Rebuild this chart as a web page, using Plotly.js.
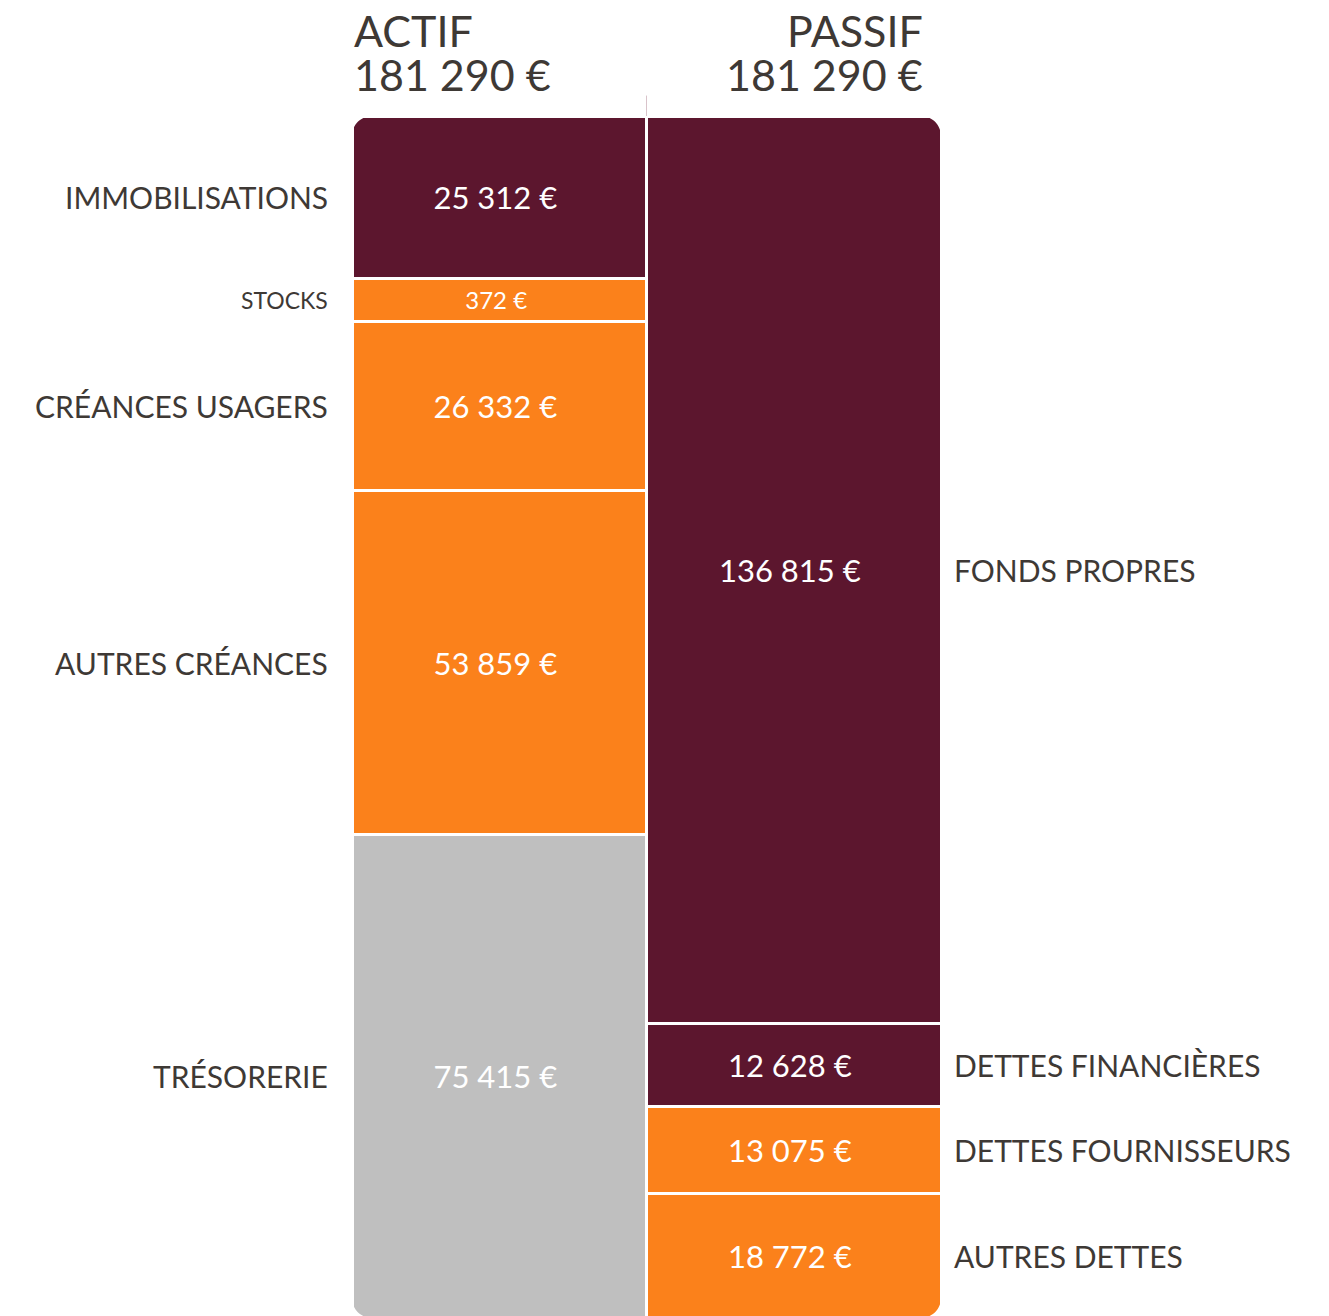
<!DOCTYPE html>
<html>
<head>
<meta charset="utf-8">
<script src="https://cdn.plot.ly/plotly-3.0.1.min.js"></script>
<style>
html,body{margin:0;padding:0;background:#fff;overflow:hidden;}
#chart{width:1329px;height:1318px;}
</style>
</head>
<body>
<div id="chart"></div>
<script>
// ---- Data ----
const actifLabels = ["IMMOBILISATIONS", "STOCKS", "CRÉANCES USAGERS", "AUTRES CRÉANCES", "TRÉSORERIE"];
const actifValues = [25312, 372, 26332, 53859, 75415];
const actifColors = ["#5C162E", "#FB811B", "#FB811B", "#FB811B", "#BFBFBF"];

const passifLabels = ["FONDS PROPRES", "DETTES FINANCIÈRES", "DETTES FOURNISSEURS", "AUTRES DETTES"];
const passifValues = [136815, 12628, 13075, 18772];
const passifColors = ["#5C162E", "#5C162E", "#FB811B", "#FB811B"];

const columns = ["ACTIF", "PASSIF"];

// ---- Helpers ----
const FONT = "Lato, 'Noto Sans', sans-serif";
const TXT = "#3E3935";
const MIN_SHARE = 0.036; // tiny items get a minimum visual height
const fmt = v => v.toString().replace(/\B(?=(\d{3})+(?!\d))/g, "\u00a0") + "\u00a0€";
const sum = a => a.reduce((s, v) => s + v, 0);

function displayHeights(values) {
  const total = sum(values);
  const minV = MIN_SHARE * total;
  const small = values.map(v => v < minV);
  const fixed = values.reduce((s, v, i) => s + (small[i] ? minV : 0), 0);
  const rest = values.reduce((s, v, i) => s + (small[i] ? 0 : v), 0);
  const k = (total - fixed) / rest;
  return values.map((v, i) => small[i] ? minV : v * k);
}

const actifDisp = displayHeights(actifValues);
const passifDisp = displayHeights(passifValues);
const totalActif = sum(actifValues);
const totalPassif = sum(passifValues);

const traces = [];
const annotations = [];

function addColumn(col, labels, values, disp, colors, side) {
  let cum = 0;
  labels.forEach((lab, i) => {
    const small = values[i] < MIN_SHARE * sum(values);
    traces.push({
      type: "bar",
      x: [col],
      y: [disp[i]],
      name: lab,
      marker: { color: colors[i], line: { color: "#ffffff", width: 3 } },
      text: [fmt(values[i]) + "\u00a0"],
      textposition: "inside",
      insidetextanchor: "middle",
      textangle: 0,
      constraintext: "none",
      textfont: { family: FONT, size: small ? 24 : 31, color: "#ffffff" },
      hoverinfo: "name+text",
      showlegend: false
    });
    const mid = cum + disp[i] / 2;
    cum += disp[i];
    annotations.push({
      xref: "paper", yref: "y",
      x: side === "left" ? 0 : 1,
      y: mid,
      xanchor: side === "left" ? "right" : "left",
      yanchor: "middle",
      xshift: side === "left" ? -22 : 11,
      text: lab,
      showarrow: false,
      font: { family: FONT, size: small ? 23 : 30, color: TXT }
    });
  });
}

addColumn(columns[0], actifLabels, actifValues, actifDisp, actifColors, "left");
addColumn(columns[1], passifLabels, passifValues, passifDisp, passifColors, "right");

// headers
const headFont = { family: FONT, size: 43, color: TXT };
annotations.push(
  { xref: "paper", yref: "paper", x: 0, y: 1, xanchor: "left", yanchor: "bottom", xshift: 0, yshift: 58, text: columns[0], showarrow: false, font: headFont },
  { xref: "paper", yref: "paper", x: 0, y: 1, xanchor: "left", yanchor: "bottom", xshift: 0, yshift: 14, text: fmt(totalActif), showarrow: false, font: headFont },
  { xref: "paper", yref: "paper", x: 1, y: 1, xanchor: "right", yanchor: "bottom", xshift: -16, yshift: 58, text: columns[1], showarrow: false, font: headFont },
  { xref: "paper", yref: "paper", x: 1, y: 1, xanchor: "right", yanchor: "bottom", xshift: -16, yshift: 14, text: fmt(totalPassif), showarrow: false, font: headFont }
);

// rounded outer corners (white masks) + divider tick above the bars
const R = 20, K = 0.4477 * R;
const yTop = 0, yBot = Math.max(totalActif, totalPassif);
function corner(xa, ya, sx, sy) {
  // local frame: +x and -y point into the bar; sx/sy orient it (pixel y is up-positive)
  const p = (x, y) => (sx * x) + "," + (sy * y);
  return {
    type: "path", layer: "above",
    xref: "x", yref: "y", xsizemode: "pixel", ysizemode: "pixel",
    xanchor: xa, yanchor: ya,
    path: "M" + p(-4, 4) + " L" + p(R, 4) + " L" + p(R, 0) +
          " C" + p(K, 0) + " " + p(0, -K) + " " + p(0, -R) +
          " L" + p(-4, -R) + " Z",
    fillcolor: "#ffffff", line: { width: 0 }
  };
}
const shapes = [
  corner(-0.5, yTop, 1, 1),
  corner(1.5, yTop, -1, 1),
  corner(-0.5, yBot, 1, -1),
  corner(1.5, yBot, -1, -1),
  { type: "line", xref: "x", yref: "paper", x0: 0.5, x1: 0.5, y0: 1, y1: 1.017,
    line: { color: "#D9C3CA", width: 1 } }
];

const layout = {
  width: 1329, height: 1318,
  margin: { l: 351.5, r: 387.5, t: 116, b: 0 },
  paper_bgcolor: "#ffffff", plot_bgcolor: "#ffffff",
  barmode: "stack", bargap: 0,
  showlegend: false,
  xaxis: { type: "category", range: [-0.5, 1.5], visible: false, fixedrange: true },
  yaxis: { range: [yBot, 0], visible: false, fixedrange: true },
  annotations: annotations,
  shapes: shapes,
  font: { family: FONT }
};

Plotly.newPlot("chart", traces, layout, { displayModeBar: false, staticPlot: true });
</script>
</body>
</html>
